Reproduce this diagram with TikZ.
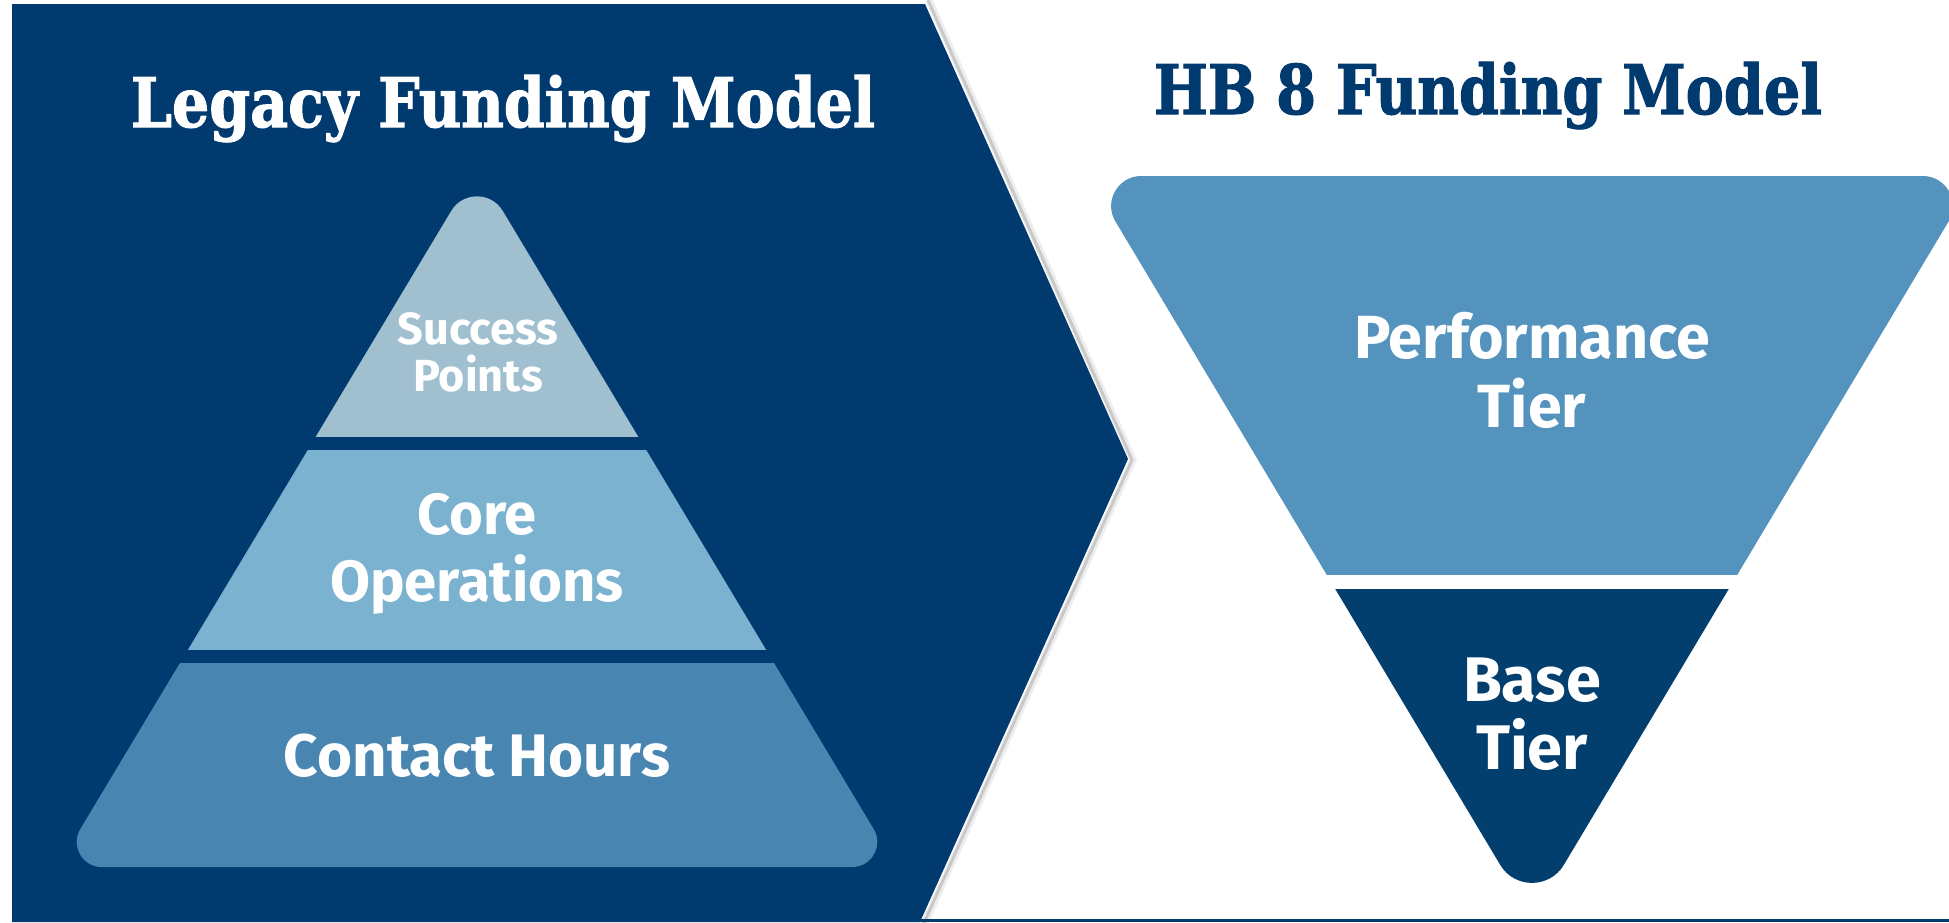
\documentclass[tikz,border=0pt]{standalone}
\usepackage{fontspec}
\usepackage{graphicx}
\newfontfamily\titlefont{DejaVu Serif Condensed}[FakeBold=1.6]
\newfontfamily\bodyfont{Fira Sans}
\definecolor{navy}{RGB}{1,58,111}
\definecolor{basenavy}{RGB}{3,63,110}
\definecolor{succ}{RGB}{160,192,208}
\definecolor{core}{RGB}{123,178,208}
\definecolor{contact}{RGB}{72,134,177}
\definecolor{perf}{RGB}{84,147,189}
\tikzset{
  lbl/.style={text=white, inner sep=0pt, align=center, font=\bodyfont\bfseries},
  ttl/.style={inner sep=0pt, anchor=base, font=\titlefont\bfseries}
}
\begin{document}
\begin{tikzpicture}[x=1pt,y=-1pt]
\useasboundingbox (0,0) rectangle (1949,922);
\clip (0,0) rectangle (1949,922);
\fill[white] (0,0) rectangle (1949,922);
% shadow of the chevron panel
\draw[line width=7pt, black, opacity=0.07, xshift=3pt] (926,0) -- (1130,460) -- (921,925);
\draw[line width=3pt, black, opacity=0.15, xshift=2pt] (926,0) -- (1130,460) -- (921,925);
% chevron panel
\fill[navy] (12,4) -- (925,4) -- (1128,459) -- (920,922) -- (12,922) -- cycle;
\fill[navy] (920,919) rectangle (1949,922);
% pyramid pieces
\begin{scope}
  \clip (0,0) rectangle (1000,436);
  \fill[succ] (57.6,867) -- (451.3,210.9) .. controls (462.9,191.5) and (491.1,191.5) .. (502.7,210.9) -- (896.4,867) -- cycle;
\end{scope}
\begin{scope}
  \clip (0,450) rectangle (1000,649);
  \fill[core] (57.6,867) -- (477,168) -- (896.4,867) -- cycle;
\end{scope}
\begin{scope}
  \clip (0,663) rectangle (1000,922);
  \fill[contact] (80.3,829.1) .. controls (70.3,845.7) and (82.4,867) .. (101.8,867) -- (852.2,867) .. controls (871.6,867) and (883.7,845.7) .. (873.7,829.1) -- (477,168) -- cycle;
\end{scope}
% inverted triangle pieces
\begin{scope}
  \clip (1000,0) rectangle (1949,574);
  \fill[perf] (1115.4,221.4) .. controls (1103.4,201.4) and (1117.9,176) .. (1141.2,176) -- (1922.8,176) .. controls (1946.1,176) and (1960.6,201.4) .. (1948.6,221.4) -- (1532,918) -- cycle;
\end{scope}
\begin{scope}
  \clip (1000,589) rectangle (1949,922);
  \fill[basenavy] (1088.3,176) -- (1975.7,176) -- (1563.8,864.9) .. controls (1549.4,888.9) and (1514.6,888.9) .. (1500.2,864.9) -- cycle;
\end{scope}
% titles
\node[ttl, text=white] (legacy) at (503,127) {\resizebox{744pt}{52pt}{Legacy Funding Model}};
\node[ttl, text=navy] (hb8) at (1488,114) {\resizebox{668pt}{52pt}{HB 8 Funding Model}};
% labels
\node[lbl, font=\bodyfont\bfseries\fontsize{45}{47}\selectfont] (success) at (478,352.5) {Success\\Points};
\node[lbl, font=\bodyfont\bfseries\fontsize{58}{67}\selectfont] (coreops) at (477,553.5) {Core\\Operations};
\node[lbl, font=\bodyfont\bfseries\fontsize{60}{67}\selectfont] (contacth) at (477,756) {Contact Hours};
\node[lbl, font=\bodyfont\bfseries\fontsize{61}{69}\selectfont] (perftier) at (1532,370.5) {Performance\\Tier};
\node[lbl, font=\bodyfont\bfseries\fontsize{63}{68}\selectfont] (basetier) at (1532,714) {Base\\Tier};
\end{tikzpicture}
\end{document}
